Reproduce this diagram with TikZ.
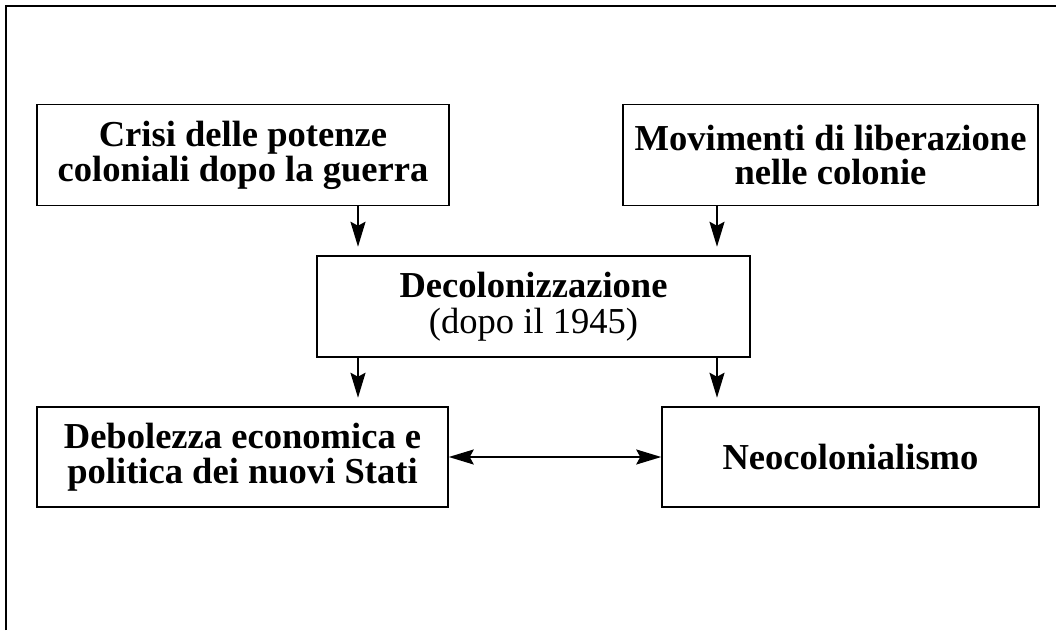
\documentclass[tikz,border=0pt]{standalone}
\usepackage{fontspec}
\setmainfont{Liberation Serif}
\usetikzlibrary{positioning}
\usetikzlibrary{arrows.meta}

\begin{document}
\begin{tikzpicture}[
  >={Stealth[length=0.5cm, width=0.3cm, inset=0.08cm]},
  box/.style={draw, line width=0.03cm, align=center, inner sep=0pt, minimum height=2.02cm,
    font=\fontsize{20.8}{19.9}\selectfont\bfseries},
  arr/.style={->, line width=0.04cm, shorten >=0.17cm},
  arrboth/.style={<->, line width=0.04cm},
]
\useasboundingbox (0,0) rectangle (21.12,12.6);

% frame (cut at right and bottom)
\draw[line width=0.04cm] (0.12,0) -- (0.12,12.48) -- (21.12,12.48);

% top row
\node[box, minimum width=8.24cm] (crisi) at (4.86,9.5) {Crisi delle potenze\\coloniali dopo la guerra};
\node[box, minimum width=8.3cm] (movimenti) at (16.61,9.5) {Movimenti di liberazione\\nelle colonie};

% middle
\node[box, minimum width=8.66cm, font=\fontsize{20.8}{20.6}\selectfont\bfseries] (decol) at (10.67,6.47)
  {Decolonizzazione\\\mdseries(dopo il 1945)};

% bottom row
\node[box, minimum width=8.22cm, minimum height=2cm] (debolezza) at (4.85,3.46) {Debolezza economica e\\politica dei nuovi Stati};
\node[box, minimum width=7.54cm, minimum height=2cm] (neo) at (17.01,3.46) {Neocolonialismo};

\coordinate (lx) at (7.16,0);
\coordinate (rx) at (14.34,0);

\draw[arr] (crisi.south -| lx) -- (decol.north -| lx);
\draw[arr] (movimenti.south -| rx) -- (decol.north -| rx);
\draw[arr] (decol.south -| lx) -- (debolezza.north -| lx);
\draw[arr] (decol.south -| rx) -- (neo.north -| rx);
\draw[arrboth] (debolezza.east) -- (neo.west);

\end{tikzpicture}
\end{document}
